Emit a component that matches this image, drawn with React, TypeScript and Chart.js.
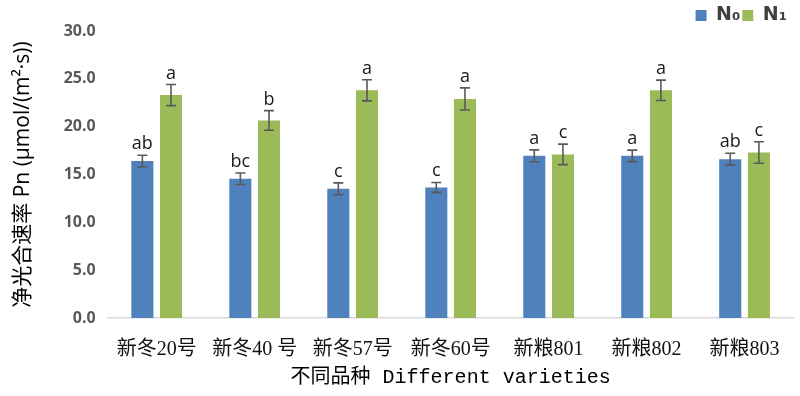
import React, { useEffect, useRef } from "react";
import { Chart, registerables } from "chart.js";

Chart.register(...registerables);

const categories = ["新冬20号", "新冬40 号", "新冬57号", "新冬60号", "新粮801", "新粮802", "新粮803"];
const seriesNames = ["N₀", "N₁"];
const n0Values = [16.4, 14.55, 13.5, 13.65, 16.95, 16.95, 16.6];
const n1Values = [23.3, 20.65, 23.8, 22.9, 17.1, 23.8, 17.3];
const n0Errors = [0.62, 0.6, 0.62, 0.52, 0.62, 0.6, 0.62];
const n1Errors = [1.1, 1.03, 1.1, 1.15, 1.07, 1.07, 1.12];
const n0Letters = ["ab", "bc", "c", "c", "a", "a", "ab"];
const n1Letters = ["a", "b", "a", "a", "c", "a", "c"];
const yTicks = [0, 5, 10, 15, 20, 25, 30];
const yTitle = "净光合速率 Pn (μmol/(m²·s))";
const xTitle = "不同品种 Different varieties";

const errorBarPlugin = {
  id: "errorBars",
  beforeDraw(chart: any) {
    const lg = chart.legend;
    if (lg && !lg._shifted) {
      lg.left -= 5;
      lg.right -= 5;
      lg.top += 4;
      lg.bottom += 4;
      lg._shifted = true;
    }
  },
  afterDatasetsDraw(chart: any) {
    const ctx = chart.ctx;
    const yScale = chart.scales.y;
    const errs = [n0Errors, n1Errors];
    const letters = [n0Letters, n1Letters];
    const vals = [n0Values, n1Values];
    ctx.save();
    for (let d = 0; d < 2; d++) {
      const meta = chart.getDatasetMeta(d);
      meta.data.forEach((bar: any, i: number) => {
        const x = bar.x;
        const v = vals[d][i];
        const e = errs[d][i];
        const yTop = yScale.getPixelForValue(v + e);
        const yBot = yScale.getPixelForValue(v - e);
        ctx.strokeStyle = "#595959";
        ctx.lineWidth = 1.6;
        ctx.beginPath();
        ctx.moveTo(x, yTop);
        ctx.lineTo(x, yBot);
        ctx.moveTo(x - 5, yTop);
        ctx.lineTo(x + 5, yTop);
        ctx.moveTo(x - 5, yBot);
        ctx.lineTo(x + 5, yBot);
        ctx.stroke();
        ctx.fillStyle = "#1a1a1a";
        ctx.font = "18px 'Open Sans', 'Liberation Sans', sans-serif";
        ctx.textAlign = "center";
        ctx.textBaseline = "alphabetic";
        ctx.fillText(letters[d][i], x, yTop - 6);
      });
    }
    ctx.restore();
  },
};

export default function App() {
  const ref = useRef<HTMLCanvasElement | null>(null);
  useEffect(() => {
    if (!ref.current) return;
    const chart = new Chart(ref.current, {
      type: "bar",
      data: {
        labels: categories,
        datasets: [
          { label: seriesNames[0], data: n0Values, backgroundColor: "#4F81BD", barPercentage: 0.77, categoryPercentage: 0.585 },
          { label: seriesNames[1], data: n1Values, backgroundColor: "#9BBB59", barPercentage: 0.77, categoryPercentage: 0.585 },
        ],
      },
      options: {
        animation: false,
        responsive: false,
        maintainAspectRatio: false,
        layout: { padding: { left: 10, right: 6, top: 0, bottom: 6 } },
        plugins: {
          legend: {
            position: "top",
            align: "end",
            labels: {
              boxWidth: 11,
              boxHeight: 11,
              padding: 2,
              color: "#404040",
              font: { size: 19, weight: "bold", family: "'DejaVu Sans', sans-serif" },
            },
          },
          tooltip: { enabled: false },
        },
        scales: {
          x: {
            grid: { display: false, drawTicks: false },
            border: { display: true, color: "#D9D9D9", width: 1.5 },
            afterFit(scale: any) {
              scale.height = 72;
            },
            ticks: {
              color: "#111",
              padding: 20,
              maxRotation: 0,
              autoSkip: false,
              font: { size: 20, family: "'Liberation Serif', 'Noto Sans CJK SC', serif" },
            },
            title: {
              display: true,
              text: xTitle,
              color: "#000",
              padding: { top: 4, bottom: 0 },
              font: { size: 20, family: "'Liberation Mono', 'Noto Sans CJK SC', monospace" },
            },
          },
          y: {
            min: 0,
            max: 30,
            afterBuildTicks(scale: any) {
              scale.ticks = yTicks.map((v) => ({ value: v }));
            },
            afterFit(scale: any) {
              scale.width = 97.7;
            },
            grid: { display: false, drawTicks: false },
            border: { display: false },
            ticks: {
              color: "#595959",
              padding: 12,
              font: { size: 16, weight: "bold", family: "'Open Sans', sans-serif" },
              callback: (v: any) => Number(v).toFixed(1),
            },
            title: {
              display: true,
              text: yTitle,
              color: "#000",
              padding: { top: 0, bottom: 8 },
              font: { size: 21, family: "'Open Sans', 'Noto Sans CJK SC', sans-serif" },
            },
          },
        },
      },
      plugins: [errorBarPlugin],
    });
    return () => chart.destroy();
  }, []);
  return (
    <div style={{ position: "fixed", left: 0, top: 0, width: 800, height: 396, background: "#fff" }}>
      <canvas ref={ref} width={800} height={396} style={{ width: 800, height: 396 }} />
    </div>
  );
}
